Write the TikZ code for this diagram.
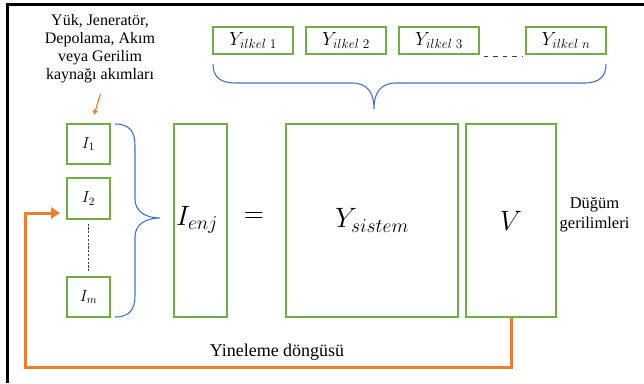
\RequirePackage{fix-cm}
\documentclass[tikz,border=0pt]{standalone}
\usepackage{fontspec}
\setmainfont{Liberation Serif}
\usetikzlibrary{arrows.meta}
\definecolor{boxgreen}{HTML}{70AD47}
\definecolor{braceblue}{HTML}{4472C4}
\definecolor{loopor}{HTML}{ED7D31}
\begin{document}
\begin{tikzpicture}[x=1pt,y=-1pt,
  box/.style={draw=boxgreen,line width=1.2pt,inner sep=0pt,rectangle},
  brc/.style={draw=braceblue,line width=1.1pt},
  loopline/.style={draw=loopor,line width=3pt,-{Triangle[length=9pt,width=11pt]}},
  smallarr/.style={draw=loopor,line width=1.2pt,-{Triangle[length=5pt,width=5pt]}},
  dashline/.style={draw=black!75,line width=0.9pt,dash pattern=on 2.2pt off 1.6pt},
  lbl/.style={font=\fontsize{16}{18}\selectfont,align=center,inner sep=0pt},
  bigm/.style={font=\fontsize{28}{30}\selectfont},
  midm/.style={font=\fontsize{19}{21}\selectfont},
  smallm/.style={font=\fontsize{16}{18}\selectfont}]
\useasboundingbox (0,0) rectangle (644,383);
% frame
\draw[line width=3pt] (7.5,383) -- (7.5,4.7) -- (644,4.7);
% top boxes
\node[box,minimum width=80pt,minimum height=27pt,midm] (y1) at (253,40.5) {$Y_{ilkel\;1}$};
\node[box,minimum width=80pt,minimum height=27pt,midm] (y2) at (346,40.5) {$Y_{ilkel\;2}$};
\node[box,minimum width=80pt,minimum height=27pt,midm] (y3) at (439,40.5) {$Y_{ilkel\;3}$};
\node[box,minimum width=80pt,minimum height=27pt,midm] (yn) at (566,40.5) {$Y_{ilkel\;n}$};
\draw[dashline,dash pattern=on 4.5pt off 5pt] ([xshift=4pt,yshift=-2pt]y3.south east) -- ([xshift=-3pt,yshift=-2pt]yn.south west);
% top brace
\draw[brc] (213,64) .. controls (213,77) and (220,83) .. (236,83) -- (352,83)
  .. controls (367,83) and (374,92) .. (374,109)
  .. controls (374,92) and (381,83) .. (396,83) -- (584,83)
  .. controls (599,83) and (606,77) .. (606,64);
% left column
\node[box,minimum width=43pt,minimum height=40pt,smallm] (i1) at (88.5,144) {$I_1$};
\node[box,minimum width=43pt,minimum height=41pt,smallm] (i2) at (88.5,198.5) {$I_2$};
\node[box,minimum width=43pt,minimum height=40pt,smallm] (im) at (88.5,297) {$I_m$};
\draw[dashline] ([yshift=-4pt]i2.south) -- ([yshift=4pt]im.north);
% left brace
\draw[brc] (115,124) .. controls (130,124) and (135,132) .. (135,146) -- (135,199)
  .. controls (135,211) and (145,218) .. (160,218)
  .. controls (145,218) and (135,225) .. (135,237) -- (135,295)
  .. controls (135,309) and (130,317) .. (115,317);
% main boxes
\node[box,minimum width=53pt,minimum height=193pt,bigm] (ienj) at (200.5,220.5) {};
\node[bigm,anchor=center] (ienjt) at (197,220) {$I_{enj}$};
\node[bigm] (eq) at (254,218) {$=$};
\node[box,minimum width=172pt,minimum height=193pt,bigm] (ysys) at (372,220.5) {$Y_{sistem}$};
\node[box,minimum width=90pt,minimum height=193pt,bigm] (v) at (511,220.5) {$V$};
% label texts
\node[lbl] (src) at (100,49) {Yük, Jeneratör,\\Depolama, Akım\\veya Gerilim\\kaynağı akımları};
\coordinate (a0) at (100.5,94);
\coordinate (a1) at (94,115);
\draw[smallarr] (a0) -- (a1);
\node[lbl,font=\fontsize{16.5}{20}\selectfont] (dug) at (594.5,215) {Düğüm\\gerilimleri};
\node[lbl,font=\fontsize{18}{20}\selectfont] (yin) at (277,352) {Yineleme döngüsü};
% loop
\coordinate (ltip) at (60,213);
\draw[loopline] (v.south) |- (25,367) |- (ltip);
\end{tikzpicture}
\end{document}
